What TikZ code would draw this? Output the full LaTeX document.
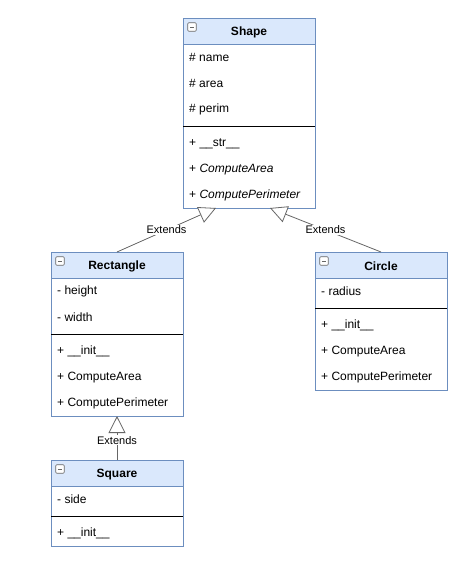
\documentclass[tikz,border=0pt]{standalone}
\usepackage{fontspec}
\setmainfont{Liberation Sans}
\usetikzlibrary{arrows.meta}
\definecolor{hdr}{HTML}{DAE8FC}
\definecolor{bdr}{HTML}{6C8EBF}
\definecolor{lnk}{HTML}{666666}
\tikzset{
  body/.style={draw=bdr, fill=white, line width=0.8pt, inner sep=0pt, outer sep=0pt, anchor=north west},
  head/.style={draw=bdr, fill=hdr, line width=0.8pt, inner sep=0pt, outer sep=0pt, anchor=north west, minimum width=132, minimum height=26},
  title/.style={font=\bfseries\fontsize{12}{14}\selectfont, inner sep=0pt},
  member/.style={anchor=west, inner sep=0pt, font=\fontsize{12}{14}\selectfont},
  sepline/.style={draw=black, line width=0.8pt},
  icon/.style={draw=gray!80!black, fill=white, line width=0.6pt, minimum size=8.5, inner sep=0pt, rounded corners=1pt,
    path picture={\draw[line width=0.7pt] ([xshift=2pt]path picture bounding box.west) -- ([xshift=-2pt]path picture bounding box.east);}},
  ext/.style={draw=lnk, line width=0.8pt, -{Triangle[open, length=17pt, width=17pt, fill=white]}},
  extlabel/.style={fill=white, inner sep=1pt, font=\fontsize{11}{13}\selectfont, text=black}
}
\begin{document}
\begin{tikzpicture}[x=1pt, y=-1pt]
\useasboundingbox (0,0) rectangle (463,573);

% ---------- Shape ----------
\node[body, minimum width=132, minimum height=190] (shape) at (183,18) {};
\node[head] (shapeH) at (183,18) {};
\node[icon] (shapeI) at (192,27) {};
\node[title] (shapeT) at (249,32.5) {Shape};
\node[member] (s1) at (189,57.5) {\# name};
\node[member] (s2) at (189,83.5) {\# area};
\node[member] (s3) at (189,109.5) {\# perim};
\draw[sepline] (183,126) -- (315,126);
\node[member] (s4) at (189,143.5) {+ \_\_str\_\_};
\node[member] (s5) at (189,169.5) {+ \textit{ComputeArea}};
\node[member] (s6) at (189,195.5) {+ \textit{ComputePerimeter}};

% ---------- Rectangle ----------
\node[body, minimum width=132, minimum height=164] (rect) at (51,252) {};
\node[head] (rectH) at (51,252) {};
\node[icon] (rectI) at (60,261) {};
\node[title] (rectT) at (117,266.5) {Rectangle};
\node[member] (r1) at (57,291.5) {- height};
\node[member] (r2) at (57,317.5) {- width};
\draw[sepline] (51,334) -- (183,334);
\node[member] (r3) at (57,351.5) {+ \_\_init\_\_};
\node[member] (r4) at (57,377.5) {+ ComputeArea};
\node[member] (r5) at (57,403.5) {+ ComputePerimeter};

% ---------- Circle ----------
\node[body, minimum width=132, minimum height=138] (circ) at (315,252) {};
\node[head] (circH) at (315,252) {};
\node[icon] (circI) at (324,261) {};
\node[title] (circT) at (381,266.5) {Circle};
\node[member] (c1) at (321,291.5) {- radius};
\draw[sepline] (315,308) -- (447,308);
\node[member] (c2) at (321,325.5) {+ \_\_init\_\_};
\node[member] (c3) at (321,351.5) {+ ComputeArea};
\node[member] (c4) at (321,377.5) {+ ComputePerimeter};

% ---------- Square ----------
\node[body, minimum width=132, minimum height=86] (sq) at (51,460) {};
\node[head] (sqH) at (51,460) {};
\node[icon] (sqI) at (60,469) {};
\node[title] (sqT) at (117,474.5) {Square};
\node[member] (q1) at (57,499.5) {- side};
\draw[sepline] (51,516) -- (183,516);
\node[member] (q2) at (57,533.5) {+ \_\_init\_\_};

% ---------- connectors ----------
\coordinate (tipL) at (216,208);
\coordinate (tipR) at (270,208);
\coordinate (tipQ) at (117,416);
\draw[ext] (rectH.north) -- node[extlabel, pos=0.5] {Extends} (tipL);
\draw[ext] (circH.north) -- node[extlabel, pos=0.5] {Extends} (tipR);
\draw[ext] (sqH.north) -- node[extlabel, pos=0.45] {Extends} (tipQ);
\end{tikzpicture}
\end{document}
